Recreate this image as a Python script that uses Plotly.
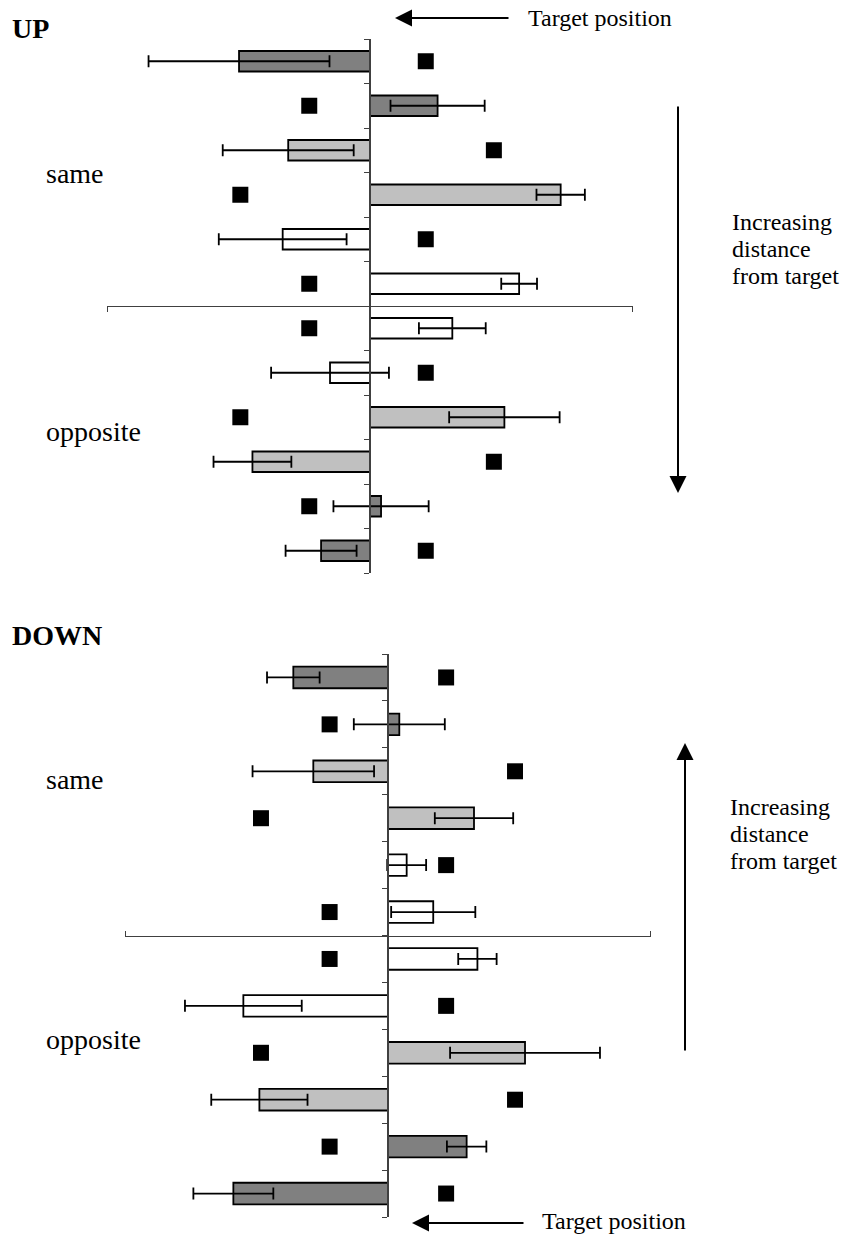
import plotly.graph_objects as go

W, H = 856, 1234

# Twelve rows per panel, top to bottom
rows = list(range(12))
row_shades = ["dark", "dark", "light", "light", "white", "white",
              "white", "white", "light", "light", "dark", "dark"]
shade_fill = {"dark": "#808080", "light": "#c0c0c0", "white": "#ffffff"}

# UP panel: bar means, error half-widths, square marker positions
up_mean = [-49.8, 25.7, -31.1, 72.5, -33.2, 56.7, 31.3, -15.2, 51.1, -44.7, 4.2, -18.6]
up_err = [34.4, 17.9, 24.9, 9.2, 24.3, 6.8, 12.7, 22.4, 21.0, 14.8, 18.1, 13.5]
up_marker = [21.2, -23.1, 47.1, -49.3, 21.2, -23.1, -23.1, 21.2, -49.3, 47.1, -23.1, 21.2]

# DOWN panel
down_mean = [-36.0, 4.3, -28.4, 32.7, 7.1, 17.2, 34.0, -55.0, 52.1, -48.9, 29.9, -58.8]
down_err = [10.0, 17.3, 23.1, 14.9, 7.4, 16.0, 7.3, 22.2, 28.5, 18.3, 7.5, 15.2]
down_marker = [22.1, -22.2, 48.3, -48.3, 22.1, -22.2, -22.2, 22.1, -48.3, 48.3, -22.2, 22.1]

SERIF = "Liberation Serif, Times New Roman, serif"
AXIS_COLOR = "#404040"


def px(x):
    return x / W


def py(y):
    return 1 - y / H


fig = go.Figure()

panels = [
    (up_mean, up_err, up_marker, "x", "y"),
    (down_mean, down_err, down_marker, "x2", "y2"),
]
for mean, err, mk, xa, ya in panels:
    fig.add_trace(go.Bar(
        x=mean, y=rows, orientation="h", width=0.46,
        marker=dict(color=[shade_fill[s] for s in row_shades],
                    line=dict(color="black", width=1.8)),
        error_x=dict(type="data", array=err, visible=True, color="black",
                     thickness=1.8, width=6),
        xaxis=xa, yaxis=ya, hoverinfo="skip",
    ))
    fig.add_trace(go.Scatter(
        x=mk, y=rows, mode="markers",
        marker=dict(symbol="square", size=16, color="black"),
        xaxis=xa, yaxis=ya, hoverinfo="skip",
    ))

# Panel geometry (pixels)
up_x = (107, 633)
up_y = (39, 573)
dn_x = (125, 651)
dn_y = (654, 1217)


def x_axis(xdom, ydom, side):
    return dict(
        domain=[px(xdom[0]), px(xdom[1])], range=[-100, 100],
        anchor="free", position=(py(ydom[0]) + py(ydom[1])) / 2, side=side,
        showgrid=False, zeroline=False, showline=True, linecolor=AXIS_COLOR,
        linewidth=1, ticks="outside", tickvals=[-99.9, 99.9], ticklen=5,
        tickwidth=1, tickcolor=AXIS_COLOR, showticklabels=False, fixedrange=True,
    )


def y_axis(xdom, ydom):
    return dict(
        domain=[py(ydom[1]), py(ydom[0])], range=[11.5, -0.5],
        anchor="free", position=px((xdom[0] + xdom[1]) / 2),
        showgrid=False, zeroline=False, showline=True, linecolor=AXIS_COLOR,
        linewidth=1.5, ticks="outside", tickvals=[r - 0.5 for r in range(13)],
        ticklen=5, tickwidth=1.2, tickcolor=AXIS_COLOR, showticklabels=False,
        fixedrange=True,
    )


annotations = []


def label(text, x, y, size, bold=False):
    annotations.append(dict(
        text=f"<b>{text}</b>" if bold else text, x=px(x), y=py(y),
        xref="paper", yref="paper", xanchor="left", yanchor="middle",
        showarrow=False, font=dict(family=SERIF, size=size, color="black"),
    ))


def arrow(tip_x, tip_y, tail_x, tail_y):
    annotations.append(dict(
        text="", x=px(tip_x), y=py(tip_y), xref="paper", yref="paper",
        ax=tail_x - tip_x, ay=tail_y - tip_y, showarrow=True,
        arrowhead=2, arrowsize=1.7, arrowwidth=2, arrowcolor="black",
        standoff=0,
    ))


label("UP", 10, 28, 28, bold=True)
label("DOWN", 10, 636, 28, bold=True)
label("same", 44, 173, 28)
label("opposite", 44, 431, 28)
label("same", 44, 779, 28)
label("opposite", 44, 1039, 28)

label("Target position", 526, 18, 24)
arrow(395, 18, 510, 18)
label("Target position", 540, 1221, 24)
arrow(412, 1223, 525, 1223)

for i, line in enumerate(["Increasing", "distance", "from target"]):
    label(line, 730, 222 + 27 * i, 24)
    label(line, 728, 807 + 27 * i, 24)

arrow(678, 493, 678, 105)
arrow(685, 743, 685, 1052)

fig.update_layout(
    width=W, height=H, margin=dict(l=0, r=0, t=0, b=0),
    paper_bgcolor="white", plot_bgcolor="white", showlegend=False,
    xaxis=x_axis(up_x, up_y, "bottom"),
    yaxis=y_axis(up_x, up_y),
    xaxis2=x_axis(dn_x, dn_y, "top"),
    yaxis2=y_axis(dn_x, dn_y),
    annotations=annotations,
)

fig.write_html("out.html", config={"displayModeBar": False})
